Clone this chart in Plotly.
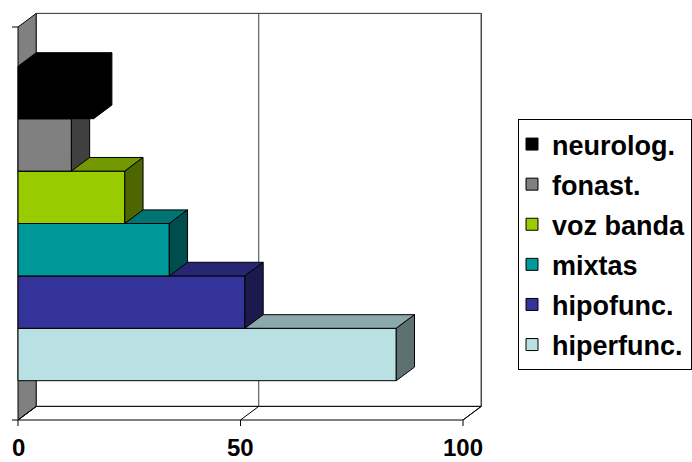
import plotly.graph_objects as go

# Voice disorder groups, bottom to top
series = ["hiperfunc.", "hipofunc.", "mixtas", "voz banda", "fonast.", "neurolog."]
values = [85, 51, 34, 24, 12, 17]
front_colors = ["#B9E0E3", "#333399", "#009999", "#99CC00", "#808080", "#000000"]
top_colors = ["#8BA8AA", "#262673", "#007373", "#739900", "#606060", "#000000"]
side_colors = ["#5D7072", "#1A1A4D", "#004D4D", "#4D6600", "#404040", "#000000"]
x_ticks = [0, 50, 100]
x_tick_labels = ["0", "50", "100"]

# 3-D projection constants (depth offset in axis units)
DX = 4.1
DY = 0.26
GAP = 0.75
XMAX = 100
PX_X = 4.45     # pixels per value unit
PX_Y = 52.4     # pixels per bar slot
FONT = "Liberation Sans, Arial, sans-serif"

y0 = -GAP
y1 = len(series) + GAP


def poly(xs, ys, fill, line="#000000", width=1):
    return go.Scatter(
        x=xs + [xs[0]], y=ys + [ys[0]], mode="lines", fill="toself",
        fillcolor=fill, line=dict(color=line, width=width),
        hoverinfo="skip", showlegend=False,
    )


def seg(xs, ys, color="#000000", width=1):
    return go.Scatter(x=xs, y=ys, mode="lines", line=dict(color=color, width=width),
                      hoverinfo="skip", showlegend=False)


fig = go.Figure()

# back wall, floor and left wall
fig.add_trace(poly([DX, XMAX + DX, XMAX + DX, DX],
                   [y0 + DY, y0 + DY, y1 + DY, y1 + DY], "#FFFFFF", "#303030"))
fig.add_trace(poly([0, XMAX, XMAX + DX, DX], [y0, y0, y0 + DY, y0 + DY], "#FFFFFF"))
fig.add_trace(poly([0, DX, DX, 0], [y0, y0 + DY, y1 + DY, y1], "#808080"))

# gridlines on back wall and floor, plus tick marks
for t in x_ticks:
    fig.add_trace(seg([t + DX, t + DX], [y0 + DY, y1 + DY], "#404040"))
    fig.add_trace(seg([t, t + DX], [y0, y0 + DY]))
    fig.add_trace(seg([t, t], [y0, y0 - 6 / PX_Y]))
for yy in (y0, y1):
    fig.add_trace(seg([-6 / PX_X, 0], [yy, yy]))

# 3-D bars, drawn bottom to top so upper bars overlap lower ones
for i, v in enumerate(values):
    b, t = i, i + 1
    fig.add_trace(poly([0, v, v, 0], [b, b, t, t], front_colors[i]))
    fig.add_trace(poly([0, DX, v + DX, v], [t, t + DY, t + DY, t], top_colors[i]))
    fig.add_trace(poly([v, v + DX, v + DX, v], [b, b + DY, t + DY, t], side_colors[i]))

# legend entries, top group first
for i in reversed(range(len(series))):
    fig.add_trace(go.Scatter(
        x=[None], y=[None], mode="markers", name=series[i], legendgroup=series[i],
        marker=dict(symbol="square", size=12, color=front_colors[i],
                    line=dict(color="#000000", width=1)),
    ))

for t, lab in zip(x_ticks, x_tick_labels):
    fig.add_annotation(x=t, y=y0, text=lab, showarrow=False, xanchor="center",
                       yanchor="middle", yshift=-27, height=24, valign="middle",
                       font=dict(family=FONT, size=24, color="#000000", weight=700))

W, H = 692, 462
R = 192
plot_w = W - R
x_lo = -18 / PX_X
x_hi = x_lo + plot_w / PX_X
y_hi = y0 + 420 / PX_Y
y_lo = y_hi - H / PX_Y

fig.update_layout(
    width=W, height=H,
    margin=dict(l=0, r=R, t=0, b=0, autoexpand=False),
    paper_bgcolor="#FFFFFF", plot_bgcolor="#FFFFFF",
    xaxis=dict(range=[x_lo, x_hi], visible=False, fixedrange=True),
    yaxis=dict(range=[y_lo, y_hi], visible=False, fixedrange=True),
    legend=dict(
        x=518 / plot_w, y=1 - 119 / H, xanchor="left", yanchor="top",
        bordercolor="#000000", borderwidth=1, bgcolor="#FFFFFF",
        font=dict(family=FONT, size=27, color="#000000", weight=700),
        traceorder="grouped", tracegroupgap=2, indentation=-7,
    ),
)

fig.write_html("out.html")
